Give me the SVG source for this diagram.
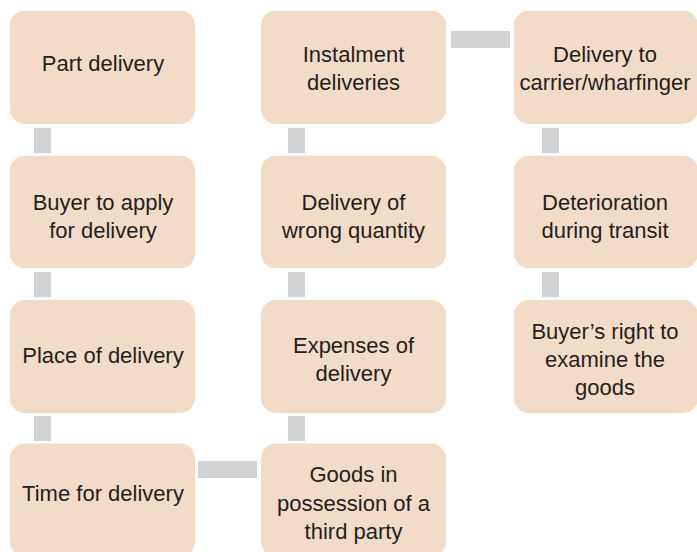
<svg xmlns="http://www.w3.org/2000/svg" width="697" height="552" viewBox="0 0 697 552">
<style>
.box{fill:#F2DCC7;}
.con{fill:#D1D2D4;}
text{font-family:"Liberation Sans",Arial,sans-serif;font-size:22px;fill:#231F20;text-anchor:middle;}
</style>
<rect width="697" height="552" fill="#ffffff"/>
<g id="connectors">
<rect class="con" x="34" y="128" width="17" height="25"/>
<rect class="con" x="34" y="272" width="17" height="25"/>
<rect class="con" x="34" y="416" width="17" height="25"/>
<rect class="con" x="288" y="128" width="17" height="25"/>
<rect class="con" x="288" y="272" width="17" height="25"/>
<rect class="con" x="288" y="416" width="17" height="25"/>
<rect class="con" x="542" y="128" width="17" height="25"/>
<rect class="con" x="542" y="272" width="17" height="25"/>
<rect class="con" x="451" y="31" width="59" height="17"/>
<rect class="con" x="198" y="461" width="59" height="17"/>
</g>
<g id="n-part-delivery">
<rect class="box" x="10" y="10.5" width="185" height="113.5" rx="15"/>
<text x="103" y="71">Part delivery</text>
</g>
<g id="n-buyer-apply">
<rect class="box" x="10" y="155.7" width="185" height="112.6" rx="15"/>
<text x="103" y="209.5">Buyer to apply</text>
<text x="103" y="238">for delivery</text>
</g>
<g id="n-place">
<rect class="box" x="10" y="300" width="185" height="113" rx="15"/>
<text x="103" y="362.7">Place of delivery</text>
</g>
<g id="n-time">
<rect class="box" x="10" y="443.5" width="185" height="113" rx="15"/>
<text x="103" y="500.7">Time for delivery</text>
</g>
<g id="n-instalment">
<rect class="box" x="261" y="10.5" width="185" height="113.5" rx="15"/>
<text x="353.5" y="62.3">Instalment</text>
<text x="353.5" y="90">deliveries</text>
</g>
<g id="n-wrong-quantity">
<rect class="box" x="261" y="155.7" width="185" height="112.6" rx="15"/>
<text x="353.5" y="209.5">Delivery of</text>
<text x="353.5" y="238">wrong quantity</text>
</g>
<g id="n-expenses">
<rect class="box" x="261" y="300" width="185" height="113" rx="15"/>
<text x="353.5" y="352.7">Expenses of</text>
<text x="353.5" y="380.7">delivery</text>
</g>
<g id="n-third-party">
<rect class="box" x="261" y="443.5" width="185" height="113" rx="15"/>
<text x="353.5" y="482.3">Goods in</text>
<text x="353.5" y="511">possession of a</text>
<text x="353.5" y="539.3">third party</text>
</g>
<g id="n-carrier">
<rect class="box" x="514" y="10.5" width="184" height="113.5" rx="15"/>
<text x="605" y="62.3">Delivery to</text>
<text x="605" y="90">carrier/wharfinger</text>
</g>
<g id="n-deterioration">
<rect class="box" x="514" y="155.7" width="184" height="112.6" rx="15"/>
<text x="605" y="209.5">Deterioration</text>
<text x="605" y="238">during transit</text>
</g>
<g id="n-examine">
<rect class="box" x="514" y="300" width="184" height="113" rx="15"/>
<text x="605" y="339.3">Buyer’s right to</text>
<text x="605" y="367.3">examine the</text>
<text x="605" y="395">goods</text>
</g>
</svg>
